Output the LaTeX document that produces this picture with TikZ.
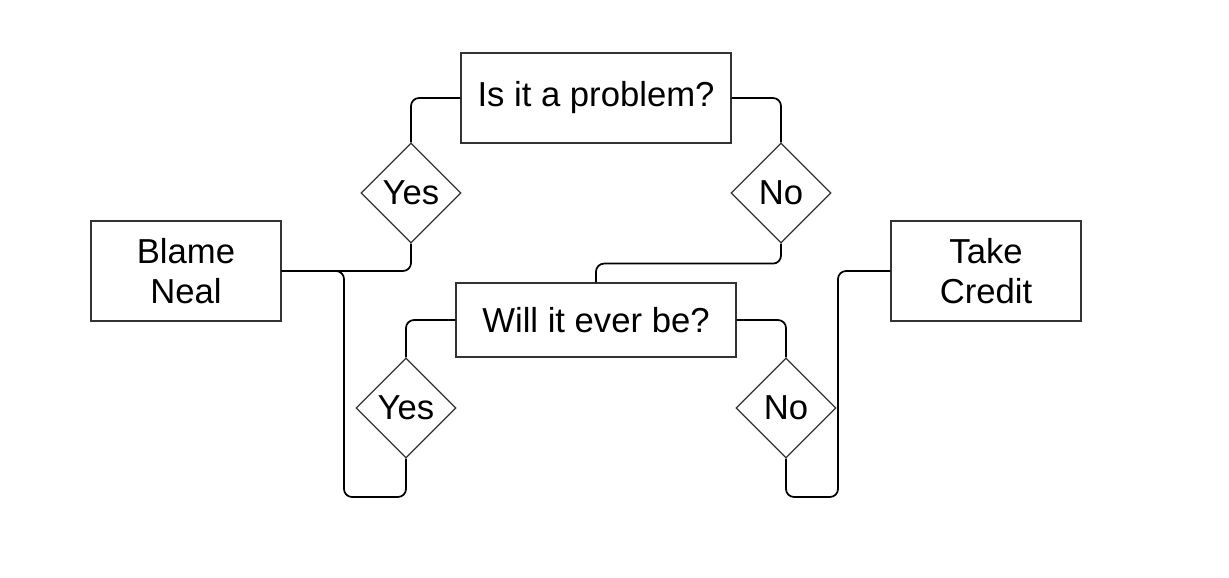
\documentclass[tikz,border=0pt]{standalone}
\usepackage{fontspec}
\setmainfont{Liberation Sans}
\usepackage{tikz}
\usetikzlibrary{positioning}
\usetikzlibrary{shapes.geometric}

\begin{document}
\begin{tikzpicture}[
  x=0.75pt,
  y=-0.75pt,
  font=\fontsize{26}{30}\selectfont,
  box/.style={
      draw=black!80,
      line width=0.9pt,
      align=center,
      inner sep=0pt
  },
  choice/.style={
      draw=black!80,
      line width=0.9pt,
      diamond,
      aspect=1,
      inner sep=0pt,
      minimum width=75pt,
      minimum height=75pt
  },
  link/.style={
      line width=1.3pt,
      rounded corners=6pt
  }
]

\useasboundingbox (0,0) rectangle (1229,578);

\node[box, minimum width=202.5pt, minimum height=67.5pt] (prob) at (596,98)
{Is it a problem?};

\node[choice] (yesa) at (411,193) {Yes};
\node[choice] (noa) at (781,193) {No};

\node[box, minimum width=142.5pt, minimum height=75pt] (blame) at (186,271)
{Blame\\Neal};

\node[box, minimum width=142.5pt, minimum height=75pt] (credit) at (986,271)
{Take\\Credit};

\node[box, minimum width=210pt, minimum height=55.5pt] (ever) at (596,320)
{Will it ever be?};

\node[choice] (yesb) at (406,408) {Yes};
\node[choice] (nob) at (786,408) {No};

\coordinate (lbus) at (344,497);
\coordinate (rbus) at (838,497);

\draw[link] (prob.west) -| (yesa.north);
\draw[link] (prob.east) -| (noa.north);

\draw[link] (yesa.south) |- (blame.east);
\draw[link] (noa.south) -- ++(0,20) -| (ever.north);

\draw[link] (ever.west) -| (yesb.north);
\draw[link] (ever.east) -| (nob.north);

\draw[link] (yesb.south) |- (lbus) |- (blame.east);
\draw[link] (nob.south) |- (rbus) |- (credit.west);

\end{tikzpicture}
\end{document}
